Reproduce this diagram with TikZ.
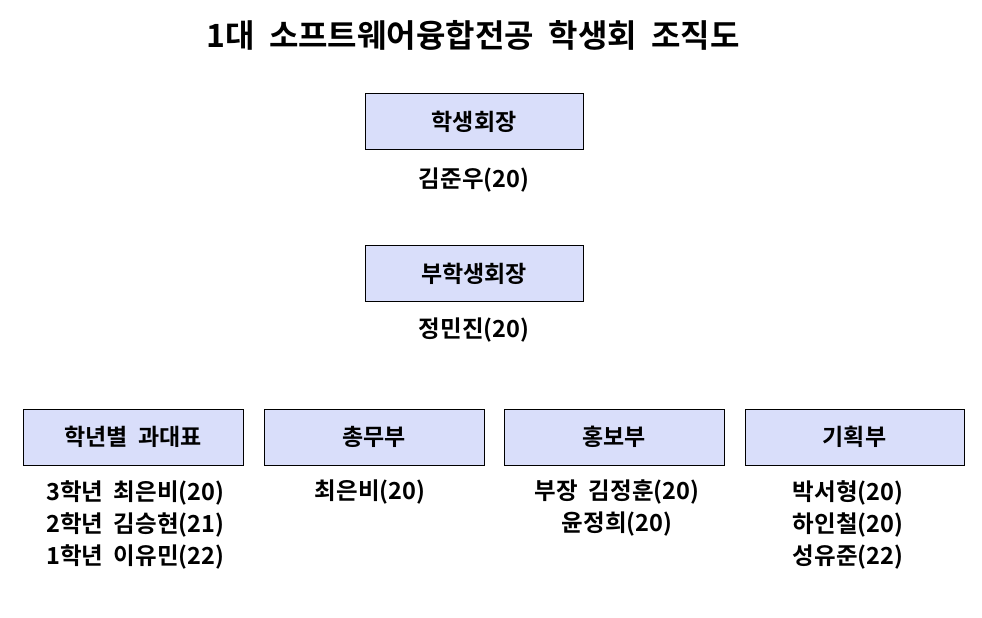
\documentclass[tikz,border=0pt]{standalone}
\usepackage{fontspec}
\setmainfont{Noto Sans CJK KR}[BoldFont={Noto Sans CJK KR Bold}]
\definecolor{boxfill}{RGB}{217,222,250}
\tikzset{
  orgbox/.style={draw=black, line width=1pt, fill=boxfill, minimum width=218pt, minimum height=56pt, inner sep=0pt, font=\fontsize{23}{26}\selectfont\bfseries},
  nametxt/.style={font=\fontsize{23.5}{32}\selectfont\bfseries, inner sep=0pt}
}
\begin{document}
\begin{tikzpicture}[x=1pt,y=-1pt]
\useasboundingbox[fill=white] (0,0) rectangle (982,618);
\node[font=\fontsize{32}{36}\selectfont\bfseries] (title) at (473,35) {1대\ \ 소프트웨어융합전공\ \ 학생회\ \ 조직도};
\node[orgbox] (pres) at (474,121.5) {학생회장};
\node[nametxt] (presn) at (474,180) {김준우(20)};
\node[orgbox] (vice) at (474,273.5) {부학생회장};
\node[nametxt] (vicen) at (474,330) {정민진(20)};
\node[orgbox, minimum width=220pt] (rep) at (133,437) {학년별\ \ 과대표};
\node[orgbox, minimum width=220pt] (gen) at (374,437) {총무부};
\node[orgbox, minimum width=220pt] (pr) at (614,437) {홍보부};
\node[orgbox, minimum width=219pt] (plan) at (854.5,437) {기획부};
\node[nametxt, align=left, anchor=north west] (repn) at (46,480) {3학년\ \ 최은비(20)\\2학년\ \ 김승현(21)\\1학년\ \ 이유민(22)};
\node[nametxt, anchor=north] (genn) at (370,480) {최은비(20)};
\node[nametxt, align=center, anchor=north] (prn) at (617,480) {부장\ \ 김정훈(20)\\윤정희(20)};
\node[nametxt, align=center, anchor=north] (plann) at (848,480) {박서형(20)\\하인철(20)\\성유준(22)};
\end{tikzpicture}
\end{document}
